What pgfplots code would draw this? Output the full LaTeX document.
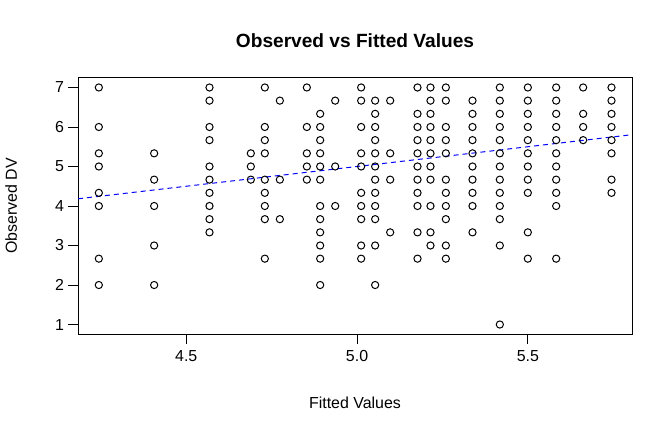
\documentclass[border=0pt]{standalone}
\usepackage{fontspec}
\setmainfont{Liberation Sans}
\usepackage{pgfplots}
\pgfplotsset{compat=1.18}
\usepackage{pgfplotstable}

\pgfplotstableread{
x y
4.244 7
4.244 6
4.244 5.333
4.244 5
4.244 4.333
4.244 4
4.244 2.667
4.244 2
4.406 5.333
4.406 4.667
4.406 4
4.406 3
4.406 2
4.568 7
4.568 6.667
4.568 6
4.568 5.667
4.568 5
4.568 4.667
4.568 4.333
4.568 4
4.568 3.667
4.568 3.333
4.689 5.333
4.689 5
4.689 4.667
4.730 7
4.730 6
4.730 5.667
4.730 5.333
4.730 4.667
4.730 4.333
4.730 4
4.730 3.667
4.730 2.667
4.774 6.667
4.774 4.667
4.774 3.667
4.853 7
4.853 6
4.853 5.333
4.853 5
4.853 4.667
4.892 6.333
4.892 6
4.892 5.667
4.892 5.333
4.892 5
4.892 4.667
4.892 4
4.892 3.667
4.892 3.333
4.892 3
4.892 2.667
4.892 2
4.936 6.667
4.936 5
4.936 4
5.012 7
5.012 6.667
5.012 6
5.012 5.333
5.012 5
5.012 4.333
5.012 4
5.012 3.667
5.012 3
5.012 2.667
5.053 6.667
5.053 6.333
5.053 6
5.053 5.667
5.053 5.333
5.053 5
5.053 4.667
5.053 4.333
5.053 4
5.053 3.667
5.053 3
5.053 2
5.097 6.667
5.097 5.333
5.097 4.667
5.097 3.333
5.177 7
5.177 6.333
5.177 6
5.177 5.667
5.177 5.333
5.177 5
5.177 4.667
5.177 4.333
5.177 4
5.177 3.333
5.177 2.667
5.215 7
5.215 6.667
5.215 6.333
5.215 6
5.215 5.667
5.215 5.333
5.215 5
5.215 4.667
5.215 4
5.215 3.333
5.215 3
5.260 7
5.260 6.667
5.260 6
5.260 5.667
5.260 5.333
5.260 4.667
5.260 4.333
5.260 4
5.260 3.667
5.260 3
5.260 2.667
5.338 6.667
5.338 6.333
5.338 6
5.338 5.667
5.338 5.333
5.338 5
5.338 4.667
5.338 4.333
5.338 4
5.338 3.333
5.418 7
5.418 6.667
5.418 6.333
5.418 6
5.418 5.667
5.418 5.333
5.418 5
5.418 4.667
5.418 4.333
5.418 4
5.418 3.667
5.418 3
5.418 1
5.500 7
5.500 6.667
5.500 6.333
5.500 6
5.500 5.667
5.500 5.333
5.500 5
5.500 4.667
5.500 4.333
5.500 3.333
5.500 2.667
5.583 7
5.583 6.667
5.583 6.333
5.583 6
5.583 5.667
5.583 5.333
5.583 5
5.583 4.667
5.583 4.333
5.583 4
5.583 2.667
5.662 7
5.662 6.333
5.662 6
5.662 5.667
5.745 7
5.745 6.667
5.745 6.333
5.745 6
5.745 5.667
5.745 5.333
5.745 4.667
5.745 4.333
}\obsdata

\pgfplotstableread{
x y
4.0 4.0
6.0 6.0
}\fitline

\begin{document}
\begin{tikzpicture}
\useasboundingbox (-78bp,-98bp) rectangle (594bp,334bp);
\begin{axis}[
  scale only axis,
  width=554bp, height=256bp,
  at={(0,0)}, anchor=south west,
  xmin=4.183, xmax=5.805,
  ymin=0.76, ymax=7.24,
  xtick={4.5,5,5.5},
  xticklabels={4.5,5.0,5.5},
  ytick={1,2,3,4,5,6,7},
  xtick pos=bottom, ytick pos=left,
  tick align=outside,
  major tick length=9.6bp,
  tick style={black, line width=0.8bp},
  axis line style={black, line width=1bp},
  /pgf/number format/assume math mode=true,
  ticklabel style={font=\fontsize{16}{19}\selectfont},
  xticklabel style={anchor=base, yshift=-18bp},
  yticklabel style={anchor=east, xshift=-1bp},
  clip=true,
]
\addplot[blue, line width=1bp, dash pattern=on 5bp off 4bp] table {\fitline};
\addplot[only marks, mark=o, mark size=3.6bp, mark options={black, line width=1bp}] table {\obsdata};
\end{axis}
\node[anchor=base, font=\bfseries\fontsize{19.2}{23}\selectfont] at (277bp,286bp) {Observed vs Fitted Values};
\node[anchor=base, font=\fontsize{16}{19}\selectfont] at (277bp,-74bp) {Fitted Values};
\node[anchor=base, rotate=90, font=\fontsize{16}{19}\selectfont] at (-61bp,128bp) {Observed DV};
\end{tikzpicture}
\end{document}
